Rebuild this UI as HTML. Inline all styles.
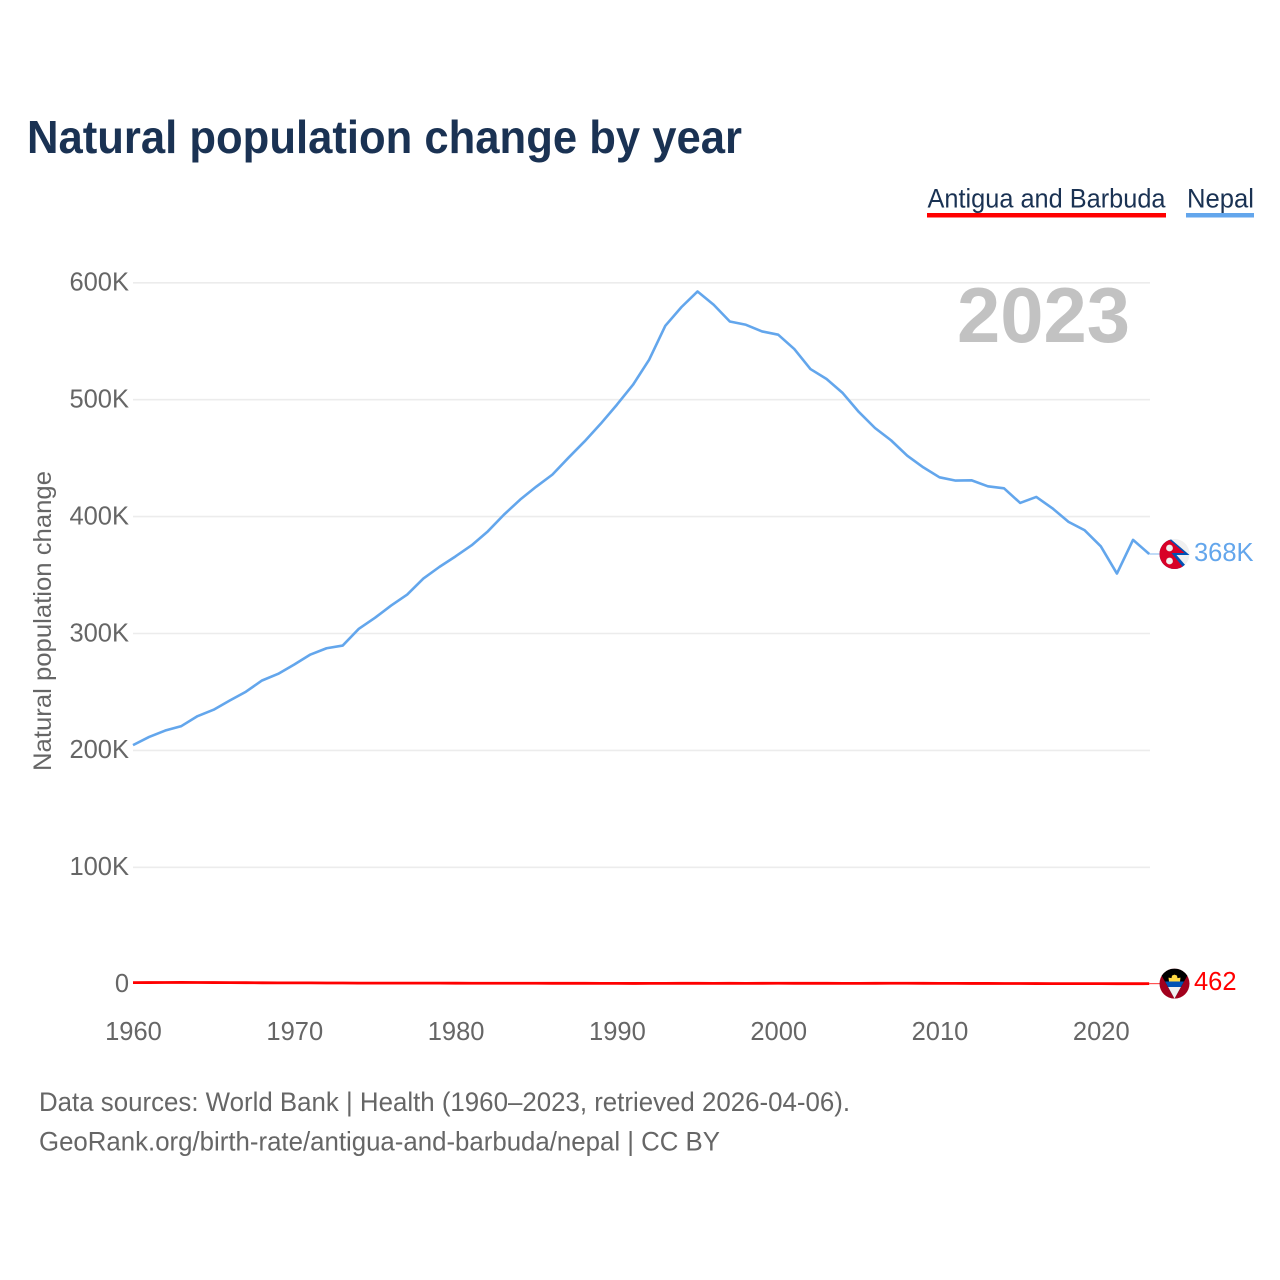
<!DOCTYPE html>
<html lang="en">
<head>
<meta charset="utf-8">
<title>Natural population change by year</title>
<style>
html,body{margin:0;padding:0;background:#fff;width:1280px;height:1280px;overflow:hidden}
svg{display:block;font-family:"Liberation Sans",sans-serif}
</style>
</head>
<body>
<svg id="chart" width="1280" height="1280" viewBox="0 0 1280 1280" xmlns="http://www.w3.org/2000/svg">
  <defs>
    <clipPath id="flag-clip"><circle cx="0" cy="0" r="15"/></clipPath>
  </defs>
  <rect x="0" y="0" width="1280" height="1280" fill="#fff"/>
  <text x="27" y="153" font-size="46" font-weight="700" fill="#1a3253" textLength="715" lengthAdjust="spacingAndGlyphs">Natural population change by year</text>

  <g>
    <g>
      <text x="927.5" y="207.5" font-size="26.5" fill="#1a3253" textLength="238" lengthAdjust="spacingAndGlyphs">Antigua and Barbuda</text>
      <rect x="927" y="213" width="239" height="4.5" fill="#ff0000"/>
    </g>
    <g>
      <text x="1187" y="207.5" font-size="26.5" fill="#1a3253" textLength="67" lengthAdjust="spacingAndGlyphs">Nepal</text>
      <rect x="1186" y="213" width="68" height="4.5" fill="#63a6ec"/>
    </g>
  </g>

  <g id="grid"></g>
  <g id="y-axis"></g>
  <g id="x-axis"></g>
  <text transform="translate(51,621) rotate(-90)" text-anchor="middle" font-size="25" fill="#666" textLength="300" lengthAdjust="spacingAndGlyphs">Natural population change</text>
  <text x="957" y="342" font-size="78" font-weight="700" fill="#c2c2c2" textLength="173" lengthAdjust="spacingAndGlyphs">2023</text>

  <g id="series"></g>

  <g id="flag-nepal">
    <g clip-path="url(#flag-clip)">
      <rect x="-15" y="-15" width="30" height="30" fill="#f0f0f0"/>
      <path d="M-15,-16 L-5,-16 L15,1 L2,1 L15,16 L-15,16 Z" fill="#0052b4"/>
      <path d="M-15,-15 L-6,-15 L10,-1 L-3,-1 L10,15 L-15,15 Z" fill="#d80027"/>
      <circle cx="-5" cy="-6" r="3.4" fill="#f0f0f0"/>
      <circle cx="-5" cy="7" r="3.4" fill="#f0f0f0"/>
    </g>
  </g>
  <g id="flag-antigua">
    <g clip-path="url(#flag-clip)">
      <rect x="-15" y="-15" width="30" height="30" fill="#a2001d"/>
      <path d="M-14,-15 L14,-15 L14,-10 L0,15 L-14,-10 Z" fill="#000"/>
      <path d="M-9.5,-2.2 L9.5,-2.2 L6.4,3.4 L-6.4,3.4 Z" fill="#0052b4"/>
      <path d="M-6.4,3.4 L6.4,3.4 L0,15 Z" fill="#f0f0f0"/>
      <path d="M-5.5,-2.2 L-6,-6 L-3,-5.5 L-2.5,-8 L0,-9 L2.5,-8 L3,-5.5 L6,-6 L5.5,-2.2 Z" fill="#ffda44"/>
    </g>
  </g>

  <g id="end-labels"></g>

  <text x="39" y="1111" font-size="26.5" fill="#666" textLength="811" lengthAdjust="spacingAndGlyphs">Data sources: World Bank | Health (1960–2023, retrieved 2026-04-06).</text>
  <text x="39" y="1150.5" font-size="26.5" fill="#666" textLength="681" lengthAdjust="spacingAndGlyphs">GeoRank.org/birth-rate/antigua-and-barbuda/nepal | CC BY</text>
</svg>
<script>
const firstYear = 1960;
const nepalValues = [
  204.5,211.5,217,220.8,229.3,234.8,242.7,250.2,259.8,265.5,
  273.5,282,287.4,289.7,304,313.4,323.9,333.3,347,357,
  366,375.5,387.4,401.7,414.5,425.6,435.9,450.4,464.4,479.5,
  495.7,512.8,534.2,563.2,579.2,592.6,581.2,566.9,564.1,558.4,
  555.6,543.3,526.2,517.7,505.7,489.5,475.8,465.2,452.1,442.1,
  433.6,430.8,431,425.9,424.2,411.7,416.8,407.1,395.5,388.3,
  374.6,351.3,380.1,368
];
const antiguaValues = [
  1.35,1.4,1.45,1.5,1.45,1.4,1.35,1.3,1.2,1.15,
  1.1,1.1,1.05,1.0,0.95,0.95,0.9,0.95,0.9,0.9,
  0.85,0.8,0.8,0.8,0.8,0.8,0.75,0.75,0.75,0.7,
  0.7,0.65,0.7,0.7,0.75,0.75,0.7,0.75,0.7,0.75,
  0.8,0.75,0.75,0.75,0.7,0.7,0.75,0.8,0.8,0.75,
  0.7,0.7,0.65,0.65,0.6,0.6,0.55,0.5,0.5,0.5,
  0.5,0.45,0.45,0.462
];
const yTicks = [0,100,200,300,400,500,600];
const yTickLabels = ["0","100K","200K","300K","400K","500K","600K"];
const xTicks = [1960,1970,1980,1990,2000,2010,2020];
const xTickLabels = ["1960","1970","1980","1990","2000","2010","2020"];
const endLabels = ["462","368K"];

const NS = "http://www.w3.org/2000/svg";
function xScale(year){ return 133 + (year - 1960) * 16.13; }
function yScale(v){ return 984.2 - v * 1.169; }
function make(tag, parent, attrs){
  const el = document.createElementNS(NS, tag);
  for (const k in attrs) el.setAttribute(k, attrs[k]);
  parent.appendChild(el);
  return el;
}
const grid = document.getElementById("grid");
const yAxis = document.getElementById("y-axis");
const xAxis = document.getElementById("x-axis");
const series = document.getElementById("series");
const labels = document.getElementById("end-labels");

yTicks.forEach(function(t, i){
  if (t !== 0) {
    const line = make("line", grid, {x1:133, x2:1150, y1:yScale(t), y2:yScale(t), stroke:"#ececec", "stroke-width":1.6});
    
    
  }
  const label = make("text", yAxis, {x:129, y:yScale(t)+7.8, "text-anchor":"end", "font-size":25.5, fill:"#666"});
  
  
  label.textContent = yTickLabels[i];
});
xTicks.forEach(function(t, i){
  const label = make("text", xAxis, {x:xScale(t)+0.5, y:1040, "text-anchor":"middle", "font-size":25.5, fill:"#666"});
  
  
  label.textContent = xTickLabels[i];
});

function drawSeries(values, color, width){
  const pts = values.map(function(v, i){ return xScale(firstYear + i).toFixed(2) + "," + yScale(v).toFixed(2); }).join(" ");
  const line = make("polyline", series, {points:pts, fill:"none", stroke:color, "stroke-width":width, "stroke-linejoin":"round"});
  const lastY = yScale(values[values.length-1]);
  const lastX = xScale(firstYear + values.length - 1);
  const lead = make("line", series, {x1:lastX, x2:1160, y1:lastY, y2:lastY, stroke:color, "stroke-width":1, opacity:0.8});
  return {line:line, lead:lead, x:lastX, y:lastY};
}
const nepal = drawSeries(nepalValues, "#63a6ec", 2.6);




const antigua = drawSeries(antiguaValues, "#ff0000", 2.8);





document.getElementById("flag-nepal").setAttribute("transform", "translate(1174.5," + nepal.y + ")");
document.getElementById("flag-antigua").setAttribute("transform", "translate(1174.5," + antigua.y + ")");

const antiguaLabel = make("text", labels, {x:1194, y:antigua.y+6.5, "font-size":25.5, fill:"#ff0000"});


antiguaLabel.textContent = endLabels[0];
const nepalLabel = make("text", labels, {x:1194, y:nepal.y+7, "font-size":25.5, fill:"#63a6ec"});


nepalLabel.textContent = endLabels[1];
</script>
</body>
</html>
